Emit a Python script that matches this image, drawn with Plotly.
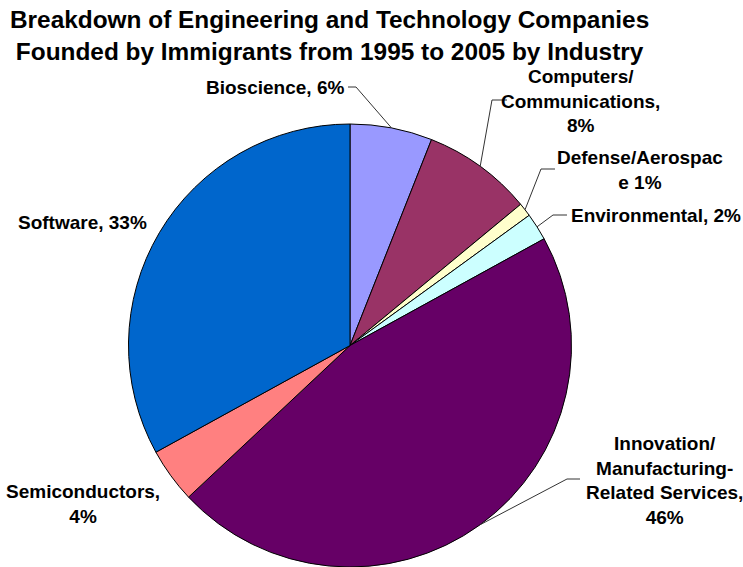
import math
import plotly.graph_objects as go

# ---- data ----
categories = ["Bioscience", "Computers/Communications", "Defense/Aerospace",
              "Environmental", "Innovation/Manufacturing-Related Services",
              "Semiconductors", "Software"]
shares = [6, 8, 1, 2, 46, 4, 33]
label_texts = ["Bioscience, 6%",
               "Computers/<br>Communications,<br>8%",
               "Defense/Aerospac<br>e 1%",
               "Environmental, 2%",
               "Innovation/<br>Manufacturing-<br>Related Services,<br>46%",
               "Semiconductors,<br>4%",
               "Software, 33%"]
colors = ["#9999FF", "#993366", "#FFFFCC", "#CCFFFF", "#660066", "#FF8080", "#0066CC"]

W, H = 743, 567
dom_x = [126 / W, 574 / W]
dom_y = [0.0, 1 - 124 / H]

def px(x):
    return x / W

def py(y):
    return 1 - y / H

fig = go.Figure(go.Pie(
    labels=categories, values=shares, sort=False, direction="clockwise",
    rotation=0, textinfo="none", hoverinfo="label+percent",
    marker=dict(colors=colors, line=dict(color="#000000", width=1)),
    domain=dict(x=dom_x, y=dom_y), showlegend=False,
))

# pie geometry in pixels (derived from the domain)
wpx = (dom_x[1] - dom_x[0]) * W
hpx = (dom_y[1] - dom_y[0]) * H
r = min(wpx, hpx) / 2
cx = (dom_x[0] + dom_x[1]) / 2 * W
cy = H - (dom_y[0] + dom_y[1]) / 2 * H

# label placement (pixel coords): x, y, xanchor, align, leader elbow points
label_pos = [
    dict(x=346, y=87, xa="right", al="right", leader=[(348, 87), (356, 87)]),
    dict(x=580, y=101, xa="center", al="center", leader=[(507, 100), (492, 100)]),
    dict(x=640, y=170, xa="center", al="center", leader=[(555, 169), (541, 169)]),
    dict(x=569, y=215, xa="left", al="left", leader=[(567, 215), (553, 215)]),
    dict(x=664, y=480, xa="center", al="center", leader=[(580, 479), (567, 479)]),
    dict(x=83, y=504, xa="center", al="center", leader=None),
    dict(x=82, y=222, xa="center", al="center", leader=None),
]

total = sum(shares)
cum = 0
annotations = []
shapes = []
for val, txt, pos in zip(shares, label_texts, label_pos):
    mid = (cum + val / 2) / total * 2 * math.pi
    cum += val
    annotations.append(dict(
        x=px(pos["x"]), y=py(pos["y"]), xref="paper", yref="paper",
        xanchor=pos["xa"], yanchor="middle", align=pos["al"],
        text="<b>" + txt + "</b>", showarrow=False,
        font=dict(family="Liberation Sans, Arial", size=19, color="#000000"),
    ))
    if pos["leader"]:
        ex = cx + r * math.sin(mid)
        ey = cy - r * math.cos(mid)
        pts = pos["leader"] + [(ex, ey)]
        path = "M " + " L ".join(f"{px(a):.5f},{py(b):.5f}" for a, b in pts)
        shapes.append(dict(type="path", path=path, xref="paper", yref="paper",
                           line=dict(color="#333333", width=1)))

annotations.append(dict(
    x=px(329), y=py(35), xref="paper", yref="paper", xanchor="center",
    yanchor="middle", align="center", showarrow=False,
    text="<b>Breakdown of Engineering and Technology Companies<br>"
         "Founded by Immigrants from 1995 to 2005 by Industry</b>",
    font=dict(family="Liberation Sans, Arial", size=24.4, color="#000000"),
))

fig.update_layout(
    width=W, height=H, margin=dict(l=0, r=0, t=0, b=0),
    paper_bgcolor="#FFFFFF", plot_bgcolor="#FFFFFF",
    annotations=annotations, shapes=shapes,
)

fig.write_html("out.html",
               config={"displayModeBar": False},
               post_script="document.body.style.margin='0';"
                           "document.body.style.overflow='hidden';")
